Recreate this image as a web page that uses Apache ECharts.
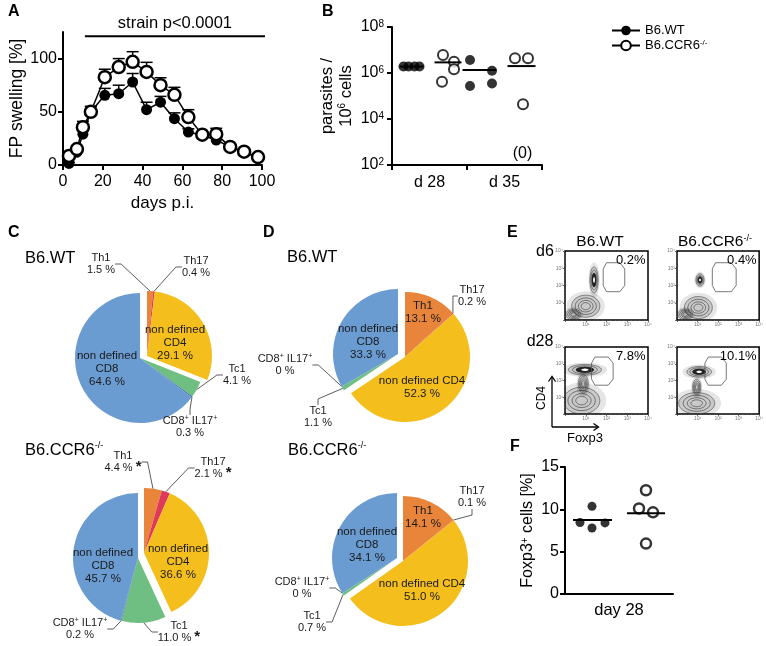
<!DOCTYPE html>
<html>
<head>
<meta charset="utf-8">
<script src="https://cdn.jsdelivr.net/npm/echarts@6.0.0/dist/echarts.min.js"></script>
<style>
html,body{margin:0;padding:0;background:#fff;}
#chart{width:766px;height:646px;}
</style>
</head>
<body>
<div id="chart"></div>
<script>
// ================= DATA =================
// Panel A: footpad swelling (%) over days p.i.
const daysA = [3, 7, 10, 14, 21, 28, 35, 42, 49, 56, 63, 70, 77, 84, 91, 98];
const swellingWT = [1.5, 12, 29, 50, 65.5, 67, 78, 52, 59, 43.5, 31, 28, 23.5, 17, 12, 7];
const swellingWTerr = [1, 2, 3, 5, 6.5, 8, 8, 7, 5.5, 5.5, 3, 2, 3, 2, 2, 2];
const swellingCCR6 = [8.5, 15, 35.5, 50, 82.5, 92, 97, 87.5, 75, 66, 45, 28.5, 29, 17, 12.5, 7.5];
const swellingCCR6err = [2, 2, 5.5, 5, 7.5, 8, 9.5, 9, 7, 7, 7, 2, 5.5, 2, 2, 2];
const yTicksA = [0, 50, 100];
const sigA = { text: 'strain p<0.0001', from: 11, to: 101.5, level: 121 };

// Panel B: parasites / 10^6 cells (log scale)
const catsB = ['d 28', 'd 35'];
const yTicksB = [1e2, 1e4, 1e6, 1e8];
const parasitesWT = [[1.9e6, 1.9e6, 1.9e6, 1.9e6], [3.7e6, 1.26e6, 2.7e5, 3.5e5]];
const parasitesCCR6 = [[6.0e6, 3.1e6, 1.45e6, 4.2e5], [4.4e6, 4.4e6, 4.4e4]];
const medianWT_B = [1.9e6, 1.35e6];
const medianCCR6_B = [2.9e6, 2.0e6];
const zeroNoteB = ['', '(0)'];

// Panels C, D: pie charts (%)
const pieCats = ['Th1', 'Th17', 'non defined CD4', 'Tc1', 'CD8+ IL17+', 'non defined CD8'];
const pieC_WT = [1.5, 0.4, 29.1, 4.1, 0.3, 64.6];
const pieC_CCR6 = [4.4, 2.1, 36.6, 11.0, 0.2, 45.7];
const pieC_CCR6sig = [true, true, false, true, false, false];
const pieD_WT = [13.1, 0.2, 52.3, 1.1, 0, 33.3];
const pieD_CCR6 = [14.1, 0.1, 51.0, 0.7, 0, 34.1];

// Panel E: flow plots (Foxp3 vs CD4), populations [x, y, spreadX, spreadY, kind]
const flowPct = ['0.2%', '0.4%', '7.8%', '10.1%'];
const flowPops = [
  [[25, 20, 17, 16, 0], [35, 58, 5, 19, 1], [10, 8, 9, 8, 0]],
  [[26, 18, 17, 16, 0], [28, 58, 5, 9, 1], [10, 8, 9, 8, 0]],
  [[20, 20, 22, 20, 0], [24, 66, 20, 8, 1], [22, 45, 6, 14, 0]],
  [[24, 16, 22, 16, 0], [27, 63, 15, 8, 1], [24, 40, 5, 12, 0]]
];
const flowGates = [
  [[50, 83], [66, 83], [72, 74], [72, 50], [66, 41], [50, 41], [46, 50], [46, 74], [50, 83]],
  [[47, 83], [66, 83], [72, 74], [72, 50], [66, 41], [47, 41], [43, 50], [43, 74], [47, 83]],
  [[36, 85], [52, 85], [58, 76], [58, 52], [52, 43], [36, 43], [32, 52], [32, 76], [36, 85]],
  [[38, 85], [54, 85], [60, 76], [60, 52], [54, 43], [38, 43], [34, 52], [34, 76], [38, 85]]
];

// Panel F: Foxp3+ cells (%) day 28
const catsF = ['B6.WT', 'B6.CCR6'];
const foxpWT = [10.35, 8.45, 7.8, 8.4];
const foxpCCR6 = [12.25, 10.1, 9.65, 5.95];
const medianF = [8.75, 9.55];

// ================= LAYOUT / STYLE =================
const FONT = '"Liberation Sans", Arial, Helvetica, sans-serif';
const K = '#000';
const jitB_WT = [[-26, -21, -15, -10], [-34.5, -12.5, -34.5, -12.5]];
const jitB_CCR = [[13.5, 24.5, 24.5, 12.5], [10.5, 23.5, 18.5]];
const medSpanB = [[[-30, -6], [5, 32]], [[-42, -8], [3, 31]]]; // [cat][group]
const jitF = [[0, -12, 0, 13], [0, -7, 7, 0]];
const medSpanF = [[-19, 20], [-19, 19]];
const pieColors = ['#E8853B', '#E03A5B', '#F4BE1C', '#6FBF82', '#3E6FA8', '#6A9BD1'];

const chart = echarts.init(document.getElementById('chart'), null, { renderer: 'canvas' });

function ellipsePts(cx, cy, rx, ry) {
  const pts = [];
  for (let i = 0; i < 36; i++) {
    const a = i / 36 * Math.PI * 2;
    pts.push([cx + rx * Math.cos(a), cy + ry * Math.sin(a)]);
  }
  return pts;
}

function axisLineStyle(show) {
  return { show: show, onZero: false, lineStyle: { color: K, width: 2 } };
}

// ----- grids -----
const grids = [
  { left: 63, top: 32, width: 199, height: 133 },   // A
  { left: 392, top: 27, width: 150, height: 138 },  // B
  { left: 565, top: 467, width: 108, height: 127 }, // F
  { left: 565, top: 251, width: 83, height: 69, show: true, borderColor: K, borderWidth: 1.5 },
  { left: 677, top: 251, width: 83, height: 69, show: true, borderColor: K, borderWidth: 1.5 },
  { left: 565, top: 347, width: 83, height: 67, show: true, borderColor: K, borderWidth: 1.5 },
  { left: 677, top: 347, width: 83, height: 67, show: true, borderColor: K, borderWidth: 1.5 }
];

const flowLab = ['', '10¹', '10²', '10³', '10⁴'];
function flowAxis(gi) {
  return {
    gridIndex: gi, type: 'value', min: 0, max: 100, interval: 25,
    axisLine: { show: false },
    axisTick: { show: true, length: 2, lineStyle: { color: '#444', width: 0.8 } },
    minorTick: { show: true, splitNumber: 5, length: 1, lineStyle: { color: '#666', width: 0.6 } },
    axisLabel: { show: true, fontSize: 5, color: '#777', margin: 2, formatter: v => flowLab[Math.round(v / 25)] || '' },
    splitLine: { show: false }
  };
}

const xAxes = [
  { gridIndex: 0, type: 'value', min: 0, max: 100, interval: 20,
    axisLine: axisLineStyle(true),
    axisTick: { show: true, length: 5, lineStyle: { color: K, width: 2 } },
    axisLabel: { fontSize: 16, color: K, margin: 9, fontFamily: FONT },
    splitLine: { show: false },
    name: 'days p.i.', nameLocation: 'middle', nameGap: 30,
    nameTextStyle: { fontSize: 17, color: K, fontFamily: FONT } },
  { gridIndex: 1, type: 'category', data: catsB,
    axisLine: axisLineStyle(true),
    axisTick: { show: true, length: 5, lineStyle: { color: K, width: 2 } },
    axisLabel: { fontSize: 16, color: K, margin: 10, fontFamily: FONT } },
  { gridIndex: 2, type: 'category', data: catsF,
    axisLine: axisLineStyle(true),
    axisTick: { show: false },
    axisLabel: { show: false },
    name: 'day 28', nameLocation: 'middle', nameGap: 8,
    nameTextStyle: { fontSize: 16.5, color: K, fontFamily: FONT, verticalAlign: 'top' } },
  flowAxis(3), flowAxis(4), flowAxis(5), flowAxis(6)
];

const yAxes = [
  { gridIndex: 0, type: 'value', min: 0, max: 125, interval: 50,
    axisLine: axisLineStyle(true),
    axisTick: { show: true, length: 5, lineStyle: { color: K, width: 2 }, customValues: yTicksA },
    axisLabel: { fontSize: 16, color: K, margin: 6, fontFamily: FONT, customValues: yTicksA },
    splitLine: { show: false },
    name: 'FP swelling [%]', nameLocation: 'middle', nameGap: 27,
    nameTextStyle: { fontSize: 17.5, color: K, fontFamily: FONT } },
  { gridIndex: 1, type: 'log', logBase: 10, min: 100, max: 1e8, splitNumber: 3,
    axisLine: axisLineStyle(true),
    axisTick: { show: true, length: 5, lineStyle: { color: K, width: 2 }, customValues: yTicksB },
    minorTick: { show: false },
    axisLabel: { fontSize: 16, color: K, margin: 8, fontFamily: FONT, customValues: yTicksB,
      formatter: v => '10{s|' + Math.round(Math.log10(v)) + '}',
      rich: { s: { fontSize: 10, verticalAlign: 'top', lineHeight: 10, padding: [0, 0, 6, 0], fontFamily: FONT } } },
    splitLine: { show: false },
    name: 'parasites /\n10{s|6} cells', nameLocation: 'middle', nameGap: 36,
    nameTextStyle: { fontSize: 16.5, color: K, fontFamily: FONT, lineHeight: 19,
      rich: { s: { fontSize: 10, verticalAlign: 'top', lineHeight: 10, padding: [0, 0, 7, 0], fontFamily: FONT } } } },
  { gridIndex: 2, type: 'value', min: 0, max: 15, interval: 5,
    axisLine: axisLineStyle(true),
    axisTick: { show: true, length: 5, lineStyle: { color: K, width: 2 } },
    axisLabel: { fontSize: 16, color: K, margin: 6, fontFamily: FONT },
    splitLine: { show: false },
    name: 'Foxp3{s|+} cells [%]', nameLocation: 'middle', nameGap: 29,
    nameTextStyle: { fontSize: 16, color: K, fontFamily: FONT,
      rich: { s: { fontSize: 10, verticalAlign: 'top', lineHeight: 10, padding: [0, 0, 6, 0], fontFamily: FONT } } } },
  flowAxis(3), flowAxis(4), flowAxis(5), flowAxis(6)
];

const series = [];

// ----- Panel A -----
function errBars(vals, errs) {
  return {
    type: 'custom', xAxisIndex: 0, yAxisIndex: 0, z: 1, clip: false,
    data: daysA.map((d, i) => [d, vals[i], errs[i]]),
    renderItem: (params, api) => {
      const p0 = api.coord([api.value(0), api.value(1)]);
      const p1 = api.coord([api.value(0), api.value(1) + api.value(2)]);
      return { type: 'group', children: [
        { type: 'line', shape: { x1: p0[0], y1: p0[1], x2: p1[0], y2: p1[1] }, style: { stroke: K, lineWidth: 1.5 } },
        { type: 'line', shape: { x1: p1[0] - 6, y1: p1[1], x2: p1[0] + 6, y2: p1[1] }, style: { stroke: K, lineWidth: 1.5 } }
      ] };
    }
  };
}
series.push(errBars(swellingWT, swellingWTerr));
series.push(errBars(swellingCCR6, swellingCCR6err));
series.push({
  type: 'line', name: 'B6.WT', xAxisIndex: 0, yAxisIndex: 0, z: 3, clip: false,
  data: daysA.map((d, i) => [d, swellingWT[i]]),
  symbol: 'circle', symbolSize: 11, showSymbol: true,
  lineStyle: { color: K, width: 1.5 }, itemStyle: { color: K }
});
series.push({
  type: 'line', name: 'B6.CCR6', xAxisIndex: 0, yAxisIndex: 0, z: 4, clip: false,
  data: daysA.map((d, i) => [d, swellingCCR6[i]]),
  symbol: 'circle', symbolSize: 12, showSymbol: true,
  lineStyle: { color: K, width: 1.5 }, itemStyle: { color: '#fff', borderColor: K, borderWidth: 2.5 }
});
// significance bar
series.push({
  type: 'custom', xAxisIndex: 0, yAxisIndex: 0, z: 5, clip: false,
  data: [[sigA.from, sigA.to, sigA.level]],
  renderItem: (params, api) => {
    const a = api.coord([api.value(0), api.value(2)]);
    const b = api.coord([api.value(1), api.value(2)]);
    return { type: 'group', children: [
      { type: 'line', shape: { x1: a[0], y1: a[1], x2: b[0], y2: b[1] }, style: { stroke: K, lineWidth: 2 } },
      { type: 'text', x: (a[0] + b[0]) / 2, y: a[1] - 4,
        style: { text: sigA.text, fontSize: 16.5, fontFamily: FONT, fill: K, align: 'center', verticalAlign: 'bottom', textAlign: 'center', textVerticalAlign: 'bottom' } }
    ] };
  }
});

// ----- Panel B -----
const bWT = [], bCCR = [];
parasitesWT.forEach((vals, c) => vals.forEach((v, k) => bWT.push({ value: [c, v], symbolOffset: [jitB_WT[c][k], 0] })));
parasitesCCR6.forEach((vals, c) => vals.forEach((v, k) => bCCR.push({ value: [c, v], symbolOffset: [jitB_CCR[c][k], 0] })));
series.push({ type: 'scatter', xAxisIndex: 1, yAxisIndex: 1, data: bWT, symbol: 'circle', symbolSize: 10, itemStyle: { color: K }, z: 3 });
series.push({ type: 'scatter', xAxisIndex: 1, yAxisIndex: 1, data: bCCR, symbol: 'circle', symbolSize: 10,
  itemStyle: { color: '#fff', borderColor: K, borderWidth: 2 }, z: 4 });
const medB = [];
catsB.forEach((c, i) => { medB.push([i, medianWT_B[i], 0]); medB.push([i, medianCCR6_B[i], 1]); });
series.push({
  type: 'custom', xAxisIndex: 1, yAxisIndex: 1, z: 5, data: medB,
  renderItem: (params, api) => {
    const c = api.value(0), g = api.value(2);
    const p = api.coord([c, api.value(1)]);
    const sp = medSpanB[c][g];
    return { type: 'line', shape: { x1: p[0] + sp[0], y1: p[1], x2: p[0] + sp[1], y2: p[1] }, style: { stroke: K, lineWidth: 2 } };
  }
});
series.push({
  type: 'custom', xAxisIndex: 1, yAxisIndex: 1, z: 5,
  data: zeroNoteB.map((t, i) => [i, yTicksB[0]]),
  renderItem: (params, api) => {
    const t = zeroNoteB[params.dataIndex];
    if (!t) return null;
    const p = api.coord([api.value(0), api.value(1) * Math.sqrt(10)]);
    return { type: 'text', x: p[0] + 18, y: p[1], style: { text: t, fontSize: 16, fontFamily: FONT, fill: K, align: 'center', verticalAlign: 'middle', textAlign: 'center', textVerticalAlign: 'middle' } };
  }
});

// ----- Panel F -----
series.push({ type: 'scatter', xAxisIndex: 2, yAxisIndex: 2, symbol: 'circle', symbolSize: 9, itemStyle: { color: K }, z: 3,
  data: foxpWT.map((v, k) => ({ value: [0, v], symbolOffset: [jitF[0][k], 0] })) });
series.push({ type: 'scatter', xAxisIndex: 2, yAxisIndex: 2, symbol: 'circle', symbolSize: 10, z: 4,
  itemStyle: { color: '#fff', borderColor: K, borderWidth: 2.5 },
  data: foxpCCR6.map((v, k) => ({ value: [1, v], symbolOffset: [jitF[1][k], 0] })) });
series.push({
  type: 'custom', xAxisIndex: 2, yAxisIndex: 2, z: 5, data: medianF.map((v, i) => [i, v]),
  renderItem: (params, api) => {
    const p = api.coord([api.value(0), api.value(1)]);
    const sp = medSpanF[params.dataIndex];
    return { type: 'line', shape: { x1: p[0] + sp[0], y1: p[1], x2: p[0] + sp[1], y2: p[1] }, style: { stroke: K, lineWidth: 2 } };
  }
});

// ----- Panel E -----
flowPops.forEach((pops, i) => {
  series.push({
    type: 'custom', xAxisIndex: 3 + i, yAxisIndex: 3 + i, clip: true, z: 2, data: pops,
    renderItem: (params, api) => {
      const c = api.coord([api.value(0), api.value(1)]);
      const s = api.size([api.value(2), api.value(3)]);
      const kind = api.value(4);
      const ch = [];
      const e = k => ellipsePts(c[0], c[1], s[0] * k, s[1] * k);
      ch.push({ type: 'polygon', shape: { points: e(1.35) }, style: { fill: 'rgba(0,0,0,0.10)' } });
      ch.push({ type: 'polygon', shape: { points: e(1.0) }, style: { fill: 'rgba(0,0,0,0.12)', stroke: '#444', lineWidth: 0.6 } });
      [0.75, 0.52, 0.32].forEach(k => ch.push({ type: 'polygon', shape: { points: e(k) }, style: { fill: 'none', stroke: '#333', lineWidth: 0.6 } }));
      if (kind === 1) {
        ch.push({ type: 'polygon', shape: { points: e(0.55) }, style: { fill: '#222' } });
        ch.push({ type: 'polygon', shape: { points: e(0.22) }, style: { fill: '#fff' } });
      }
      return { type: 'group', children: ch };
    }
  });
  series.push({ type: 'line', xAxisIndex: 3 + i, yAxisIndex: 3 + i, data: flowGates[i], symbol: 'none', z: 3,
    lineStyle: { color: '#555', width: 0.8 } });
  series.push({
    type: 'custom', xAxisIndex: 3 + i, yAxisIndex: 3 + i, z: 4, data: [[0]],
    renderItem: (params, api) => {
      const p = api.coord([97, 96]);
      return { type: 'text', x: p[0], y: p[1], style: { text: flowPct[i], fontSize: 13, fontFamily: FONT, fill: K, align: 'right', verticalAlign: 'top', textAlign: 'right', textVerticalAlign: 'top' } };
    }
  });
});

// ----- Panels C, D (pies) -----
function pieText(i, v, breakCD4, star) {
  const pct = v === 0 ? '0 %' : v.toFixed(1) + ' %';
  const s = star ? ' {a|*}' : '';
  const nm = pieCats[i];
  if (i === 2) return (breakCD4 ? nm.replace('defined ', 'defined\n') : nm) + '\n' + pct;
  if (i === 5) return nm.replace('defined ', 'defined\n') + '\n' + pct;
  if (i === 4) return nm.replace(/\+/g, '{sup|+}') + '\n' + pct;
  return nm + '\n' + pct + s;
}
function makePie(values, center, shift, labelPos, insideSet, breakCD4, sig) {
  const cd4 = values[0] + values[1] + values[2];
  const cd8 = values[3] + values[4] + values[5];
  const item = i => {
    const inside = insideSet.indexOf(i) >= 0;
    return {
      name: pieCats[i], value: values[i], itemStyle: { color: pieColors[i] },
      label: { show: true, position: inside ? 'inside' : 'outside',
        fontSize: inside ? 11.5 : 11, lineHeight: inside ? 13 : 12,
        formatter: () => pieText(i, values[i], breakCD4, sig ? sig[i] : false) },
      labelLine: { show: !inside }
    };
  };
  const ph = v => ({ name: '', value: v, itemStyle: { color: 'rgba(0,0,0,0)' }, label: { show: false }, labelLine: { show: false } });
  const common = {
    type: 'pie', radius: 65, startAngle: 90, clockwise: true, avoidLabelOverlap: false, silent: true,
    animation: false, minShowLabelAngle: 0,
    label: { color: '#1a1a1a', fontFamily: FONT, align: 'center',
      rich: { sup: { fontSize: 7, verticalAlign: 'top', lineHeight: 7, fontFamily: FONT, color: '#1a1a1a' },
              a: { fontSize: 15, fontWeight: 'bold', fontFamily: FONT, color: '#1a1a1a', padding: [0, 0, 3, 0] } } },
    labelLine: { length: 6, length2: 6, lineStyle: { color: '#333', width: 0.8 } },
    itemStyle: { borderWidth: 0 }
  };
  const lay = idx => {
    const p = labelPos[idx];
    if (!p) return {};
    return { x: p[0], y: p[1], align: 'center', verticalAlign: 'middle' };
  };
  return [
    Object.assign({}, common, { center: [center[0] + shift[0], center[1] + shift[1]],
      data: [item(0), item(1), item(2), ph(cd8)],
      labelLayout: p => (p.dataIndex < 3 ? lay(p.dataIndex) : {}) }),
    Object.assign({}, common, { center: center,
      data: [ph(cd4), item(3), item(4), item(5)],
      labelLayout: p => (p.dataIndex > 0 ? lay(p.dataIndex + 2) : {}) })
  ];
}
series.push(...makePie(pieC_WT, [140, 358], [7, -2],
  [[101, 264], [196, 267], [175, 343], [237, 375], [190, 427], [107, 369]], [2, 5], true, null));
series.push(...makePie(pieC_CCR6, [138, 558], [6, -5],
  [[123, 462], [213, 468], [178, 562], [179, 632], [80, 629], [103, 566]], [2, 5], true, pieC_CCR6sig));
series.push(...makePie(pieD_WT, [398, 354], [7, 3],
  [[423, 312], [472, 296], [422, 387], [318, 417], [285, 365], [368, 342]], [0, 2, 5], false, null));
series.push(...makePie(pieD_CCR6, [397, 558], [6, 3],
  [[423, 517], [472, 497], [422, 590], [312, 622], [302, 588], [367, 545]], [0, 2, 5], false, null));

// ----- graphic texts -----
function txt(x, y, text, size, opts) {
  const o = opts || {};
  return {
    type: 'text', x: x, y: y, rotation: o.rot || 0, silent: true,
    style: {
      text: text, fill: K, fontSize: size, fontFamily: FONT, fontWeight: o.bold ? 'bold' : 'normal',
      align: o.align || 'left', verticalAlign: 'middle', textAlign: o.align || 'left', textVerticalAlign: 'middle',
      rich: { s: { fontSize: Math.round(size * 0.55), verticalAlign: 'top', lineHeight: Math.round(size * 0.55), fontFamily: FONT, fill: K } }
    }
  };
}
const graphics = [
  txt(8, 12, 'A', 16, { bold: true }),
  txt(322, 12, 'B', 16, { bold: true }),
  txt(8, 233, 'C', 16, { bold: true }),
  txt(263, 233, 'D', 16, { bold: true }),
  txt(507, 233, 'E', 16, { bold: true }),
  txt(510, 447, 'F', 16, { bold: true }),
  txt(25, 258, 'B6.WT', 16.5),
  txt(25, 450, 'B6.CCR6{s|-/-}', 16.5),
  txt(287, 257, 'B6.WT', 16.5),
  txt(288, 450, 'B6.CCR6{s|-/-}', 16.5),
  txt(600, 242, 'B6.WT', 15.5, { align: 'center' }),
  txt(715, 242, 'B6.CCR6{s|-/-}', 15.5, { align: 'center' }),
  txt(545, 252, 'd6', 16, { align: 'center' }),
  txt(540, 342, 'd28', 16, { align: 'center' }),
  txt(542, 398, 'CD4', 12, { align: 'center', rot: Math.PI / 2 }),
  txt(585, 438, 'Foxp3', 13, { align: 'center' }),
  { type: 'polyline', silent: true, shape: { points: [[552, 427], [552, 377]] }, style: { stroke: K, lineWidth: 1.3, fill: null } },
  { type: 'polyline', silent: true, shape: { points: [[548.5, 381.5], [552, 376.5], [555.5, 381.5]] }, style: { stroke: K, lineWidth: 1.3, fill: null } },
  { type: 'polyline', silent: true, shape: { points: [[552, 427], [598, 427]] }, style: { stroke: K, lineWidth: 1.3, fill: null } },
  { type: 'polyline', silent: true, shape: { points: [[593.5, 423.5], [598.5, 427], [593.5, 430.5]] }, style: { stroke: K, lineWidth: 1.3, fill: null } }
];

chart.setOption({
  animation: false,
  backgroundColor: '#fff',
  textStyle: { fontFamily: FONT },
  legend: {
    data: ['B6.WT', 'B6.CCR6'], orient: 'vertical', left: 606, top: 19,
    itemWidth: 28, itemHeight: 12, itemGap: 2, selectedMode: false,
    textStyle: { fontSize: 13, color: K, fontFamily: FONT,
      rich: { s: { fontSize: 8, verticalAlign: 'top', lineHeight: 8, fontFamily: FONT } } },
    formatter: n => (n === 'B6.WT' ? 'B6.WT' : 'B6.CCR6{s|-/-}')
  },
  grid: grids,
  xAxis: xAxes,
  yAxis: yAxes,
  series: series,
  graphic: graphics
});
</script>
</body>
</html>
